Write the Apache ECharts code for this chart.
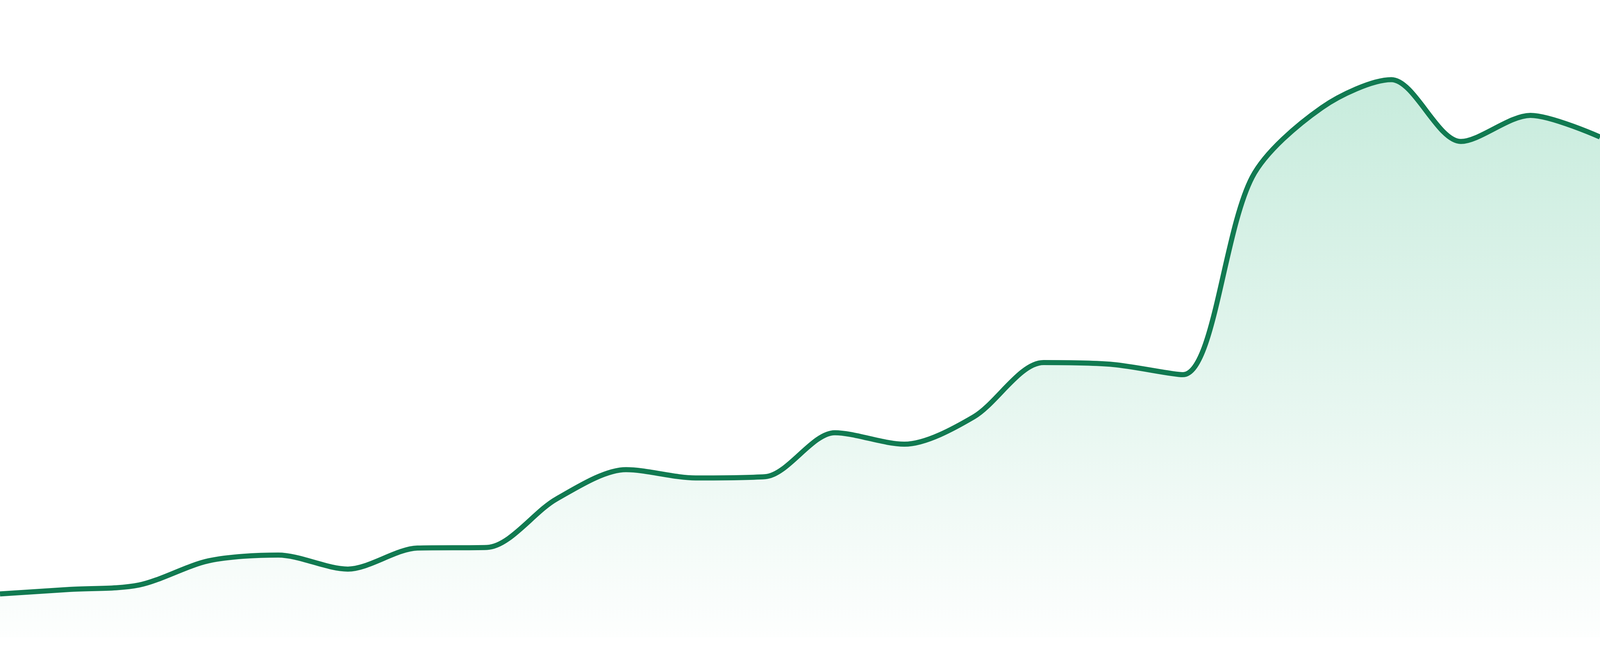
<!DOCTYPE html>
<html>
<head>
<meta charset="utf-8">
<script src="https://cdn.jsdelivr.net/npm/echarts@6/dist/echarts.min.js"></script>
<style>
  html, body { margin: 0; padding: 0; background: #ffffff; overflow: hidden; width: 100%; height: 100%; }
  #chart { width: 100vw; height: 100vh; }
</style>
</head>
<body>
<div id="chart"></div>
<script>
// Categories (24 evenly spaced points; the chart shows no axis labels)
const categories = [
  'P1','P2','P3','P4','P5','P6','P7','P8','P9','P10','P11','P12',
  'P13','P14','P15','P16','P17','P18','P19','P20','P21','P22','P23','P24'
];
// Series values (0–100 scale)
const values = [
  6.8, 7.5, 8.2, 12.0, 12.9, 10.7, 14.0, 14.1, 21.7, 26.3, 25.0, 25.2,
  32.1, 30.3, 34.6, 43.1, 42.8, 41.2, 72.2, 83.1, 87.5, 77.8, 81.9, 78.5
];
const yMin = 0;
const yMax = 100;

const chart = echarts.init(document.getElementById('chart'));
const h = window.innerHeight;
chart.setOption({
  animation: false,
  backgroundColor: '#ffffff',
  grid: { left: 0, right: 0, top: 0, bottom: Math.round(h * 48 / 1680) },
  xAxis: {
    type: 'category',
    data: categories,
    boundaryGap: false,
    show: false
  },
  yAxis: {
    type: 'value',
    min: yMin,
    max: yMax,
    show: false
  },
  series: [{
    type: 'line',
    data: values,
    smooth: 0.3,
    symbol: 'none',
    lineStyle: { color: '#117a51', width: Math.max(2, h * 13 / 1680) },
    areaStyle: {
      color: new echarts.graphic.LinearGradient(0, 0, 0, 1, [
        { offset: 0, color: 'rgba(27,175,114,0.35)' },
        { offset: 1, color: 'rgba(27,175,114,0.01)' }
      ])
    }
  }]
});
</script>
</body>
</html>
